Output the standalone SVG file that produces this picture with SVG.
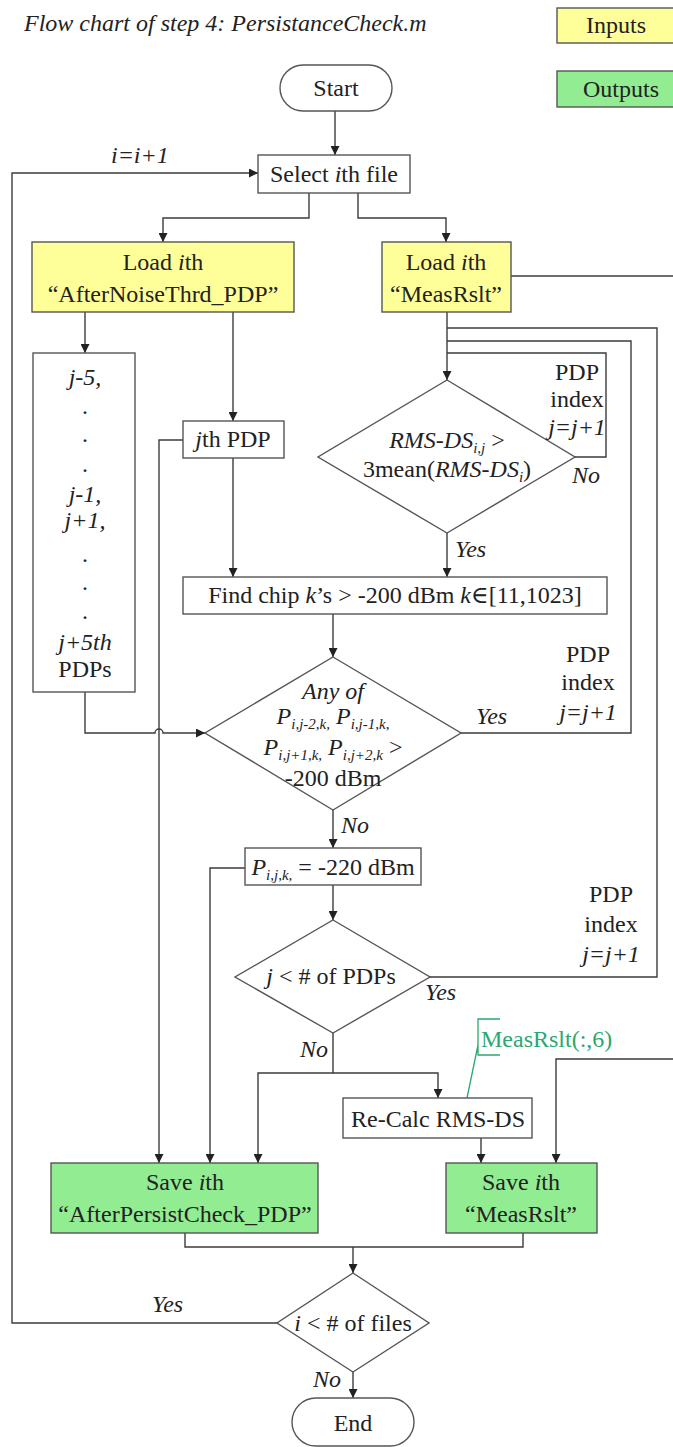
<svg xmlns="http://www.w3.org/2000/svg" width="673" height="1447" viewBox="0 0 673 1447" font-family="'Liberation Serif', 'DejaVu Serif', serif">
<style>
text{font-family:'Liberation Serif','DejaVu Serif',serif;font-size:24px;fill:#222}
.it{font-style:italic}
.m{text-anchor:middle}
.sb{font-size:15px;font-style:italic}
.bx{fill:#fff;stroke:#555;stroke-width:1.4}
.in{fill:#ffff99;stroke:#555;stroke-width:1.4}
.out{fill:#92ec92;stroke:#555;stroke-width:1.4}
.ln{fill:none;stroke:#3c3c3c;stroke-width:1.4}
.ar{marker-end:url(#ah)}
.cl{fill:none;stroke:#2aa870;stroke-width:1.3}
</style>
<defs>
<marker id="ah" markerUnits="userSpaceOnUse" markerWidth="9" markerHeight="9" viewBox="0 0 10 10" refX="10" refY="5" orient="auto">
<path d="M0,0 L10,5 L0,10 z" fill="#222"/>
</marker>
</defs>
<rect width="673" height="1447" fill="#fff"/>
<text x="24" y="31" class="it">Flow chart of step 4: PersistanceCheck.m</text>
<g id="legend-inputs"><rect class="in" x="557" y="8" width="125" height="35"/><text x="586" y="33">Inputs</text></g>
<g id="legend-outputs"><rect class="out" x="557" y="71" width="125" height="36"/><text x="583" y="97">Outputs</text></g>

<g id="connectors">
<path class="ln ar" d="M335,110 V155"/>
<path class="ln ar" d="M277,1323 H12 V173 H258"/>
<path class="ln ar" d="M309,193 V218 H163 V242"/>
<path class="ln ar" d="M358,193 V218 H446 V242"/>
<path class="ln ar" d="M85,312 V353"/>
<path class="ln ar" d="M233,312 V421"/>
<path class="ln ar" d="M447,312 V380"/>
<path class="ln" d="M511,276 H673"/>
<path class="ln" d="M575,457 H606 V353 H447"/>
<path class="ln ar" d="M447,533 V577"/>
<path class="ln ar" d="M233,458 V577"/>
<path class="ln ar" d="M183,440 H159 V1163"/>
<path class="ln ar" d="M333,614 V657"/>
<path class="ln ar" d="M85,692 V733 H155 A4,4 0 0 1 163,733 H205"/>
<path class="ln" d="M461,733 H631 V341 H447"/>
<path class="ln ar" d="M333,810 V848"/>
<path class="ln ar" d="M245,868 H210 V1163"/>
<path class="ln ar" d="M333,885 V920"/>
<path class="ln" d="M430,977 H657 V328 H447"/>
<path class="ln ar" d="M333,1033 V1073 H258 V1163"/>
<path class="ln ar" d="M333,1073 H438 V1098"/>
<path class="ln ar" d="M481,1138 V1163"/>
<path class="ln ar" d="M673,1059 H556 V1163"/>
<path class="ln" d="M185,1233 V1247 H523 V1233"/>
<path class="ln ar" d="M353,1247 V1273"/>
<path class="ln ar" d="M353,1372 V1398"/>
<path class="cl" d="M500,1019 H478 V1055 H500 M478,1045 L467,1098"/>
</g>

<g id="label-loop-i"><text x="111" y="163" class="it">i=i+1</text></g>

<g id="start"><rect class="bx" x="280" y="65" width="112" height="46" rx="23"/><text x="336" y="96" class="m">Start</text></g>
<g id="select"><rect class="bx" x="258" y="155" width="152" height="38"/><text x="334" y="182" class="m">Select <tspan class="it">i</tspan>th file</text></g>
<g id="load-pdp"><rect class="in" x="32" y="242" width="262" height="70"/><text x="163" y="270" class="m">Load <tspan class="it">i</tspan>th</text><text x="163" y="302" class="m">“AfterNoiseThrd_PDP”</text></g>
<g id="load-meas"><rect class="in" x="382" y="242" width="129" height="70"/><text x="446" y="270" class="m">Load <tspan class="it">i</tspan>th</text><text x="446" y="302" class="m">“MeasRslt”</text></g>
<g id="neighbours"><rect class="bx" x="33" y="353" width="102" height="339"/>
<text x="85" y="385" class="m it">j-5,</text>
<text x="85" y="414" class="m">.</text><text x="85" y="442" class="m">.</text><text x="85" y="472" class="m">.</text>
<text x="85" y="502" class="m it">j-1,</text><text x="85" y="528" class="m it">j+1,</text>
<text x="85" y="562" class="m">.</text><text x="85" y="590" class="m">.</text><text x="85" y="619" class="m">.</text>
<text x="85" y="650" class="m it">j+5th</text><text x="85" y="677" class="m">PDPs</text></g>
<g id="jth-pdp"><rect class="bx" x="183" y="421" width="101" height="37"/><text x="233" y="447" class="m"><tspan class="it">j</tspan>th PDP</text></g>
<g id="rms-check"><path class="bx" d="M447,380 L575,457 L447,533 L318,457 Z"/>
<text x="447" y="448" class="m"><tspan class="it">RMS-DS</tspan><tspan class="sb" dy="5">i,j</tspan><tspan dy="-5"> &gt;</tspan></text>
<text x="447" y="477" class="m">3mean(<tspan class="it">RMS-DS</tspan><tspan class="sb" dy="5">i</tspan><tspan dy="-5">)</tspan></text></g>
<g id="label-idx1"><text x="577" y="380" class="m">PDP</text><text x="577" y="407" class="m">index</text><text x="577" y="435" class="m it">j=j+1</text></g>
<g id="label-no1"><text x="572" y="483" class="it">No</text></g>
<g id="label-yes1"><text x="455" y="557" class="it">Yes</text></g>
<g id="find"><rect class="bx" x="183" y="577" width="424" height="37"/><text x="395" y="603" class="m">Find chip <tspan class="it">k</tspan>’s &gt; -200 dBm <tspan class="it">k</tspan>∈[11,1023]</text></g>
<g id="any-check"><path class="bx" d="M333,657 L461,733 L333,810 L205,733 Z"/>
<text x="333" y="699" class="m it">Any of</text>
<text x="333" y="724" class="m"><tspan class="it">P</tspan><tspan class="sb" dy="5">i,j-2,k,</tspan><tspan dy="-5"> </tspan><tspan class="it">P</tspan><tspan class="sb" dy="5">i,j-1,k,</tspan></text>
<text x="333" y="755" class="m"><tspan class="it">P</tspan><tspan class="sb" dy="5">i,j+1,k,</tspan><tspan dy="-5"> </tspan><tspan class="it">P</tspan><tspan class="sb" dy="5">i,j+2,k</tspan><tspan dy="-5"> &gt;</tspan></text>
<text x="333" y="786" class="m">-200 dBm</text></g>
<g id="label-yes2"><text x="476" y="724" class="it">Yes</text></g>
<g id="label-idx2"><text x="588" y="662" class="m">PDP</text><text x="588" y="690" class="m">index</text><text x="588" y="720" class="m it">j=j+1</text></g>
<g id="label-no2"><text x="341" y="833" class="it">No</text></g>
<g id="set-p"><rect class="bx" x="245" y="848" width="176" height="37"/><text x="333" y="875" class="m"><tspan class="it">P</tspan><tspan class="sb" dy="5">i,j,k,</tspan><tspan dy="-5"> = -220 dBm</tspan></text></g>
<g id="j-check"><path class="bx" d="M333,920 L430,977 L333,1033 L235,977 Z"/><text x="331" y="984" class="m"><tspan class="it">j</tspan> &lt; # of PDPs</text></g>
<g id="label-yes3"><text x="425" y="1000" class="it">Yes</text></g>
<g id="label-idx3"><text x="611" y="902" class="m">PDP</text><text x="611" y="932" class="m">index</text><text x="611" y="962" class="m it">j=j+1</text></g>
<g id="label-no3"><text x="300" y="1057" class="it">No</text></g>
<g id="callout"><text x="481" y="1047" style="fill:#2aa870">MeasRslt(:,6)</text></g>
<g id="recalc"><rect class="bx" x="343" y="1098" width="189" height="40"/><text x="438" y="1127" class="m">Re-Calc RMS-DS</text></g>
<g id="save-pdp"><rect class="out" x="51" y="1163" width="267" height="70"/><text x="185" y="1190" class="m">Save <tspan class="it">i</tspan>th</text><text x="185" y="1222" class="m">“AfterPersistCheck_PDP”</text></g>
<g id="save-meas"><rect class="out" x="446" y="1163" width="151" height="70"/><text x="521" y="1190" class="m">Save <tspan class="it">i</tspan>th</text><text x="521" y="1222" class="m">“MeasRslt”</text></g>
<g id="i-check"><path class="bx" d="M353,1273 L429,1323 L353,1372 L277,1323 Z"/><text x="353" y="1331" class="m"><tspan class="it">i</tspan> &lt; # of files</text></g>
<g id="label-yes4"><text x="152" y="1312" class="it">Yes</text></g>
<g id="label-no4"><text x="313" y="1387" class="it">No</text></g>
<g id="end"><rect class="bx" x="292" y="1398" width="122" height="48" rx="24"/><text x="353" y="1431" class="m">End</text></g>
</svg>
